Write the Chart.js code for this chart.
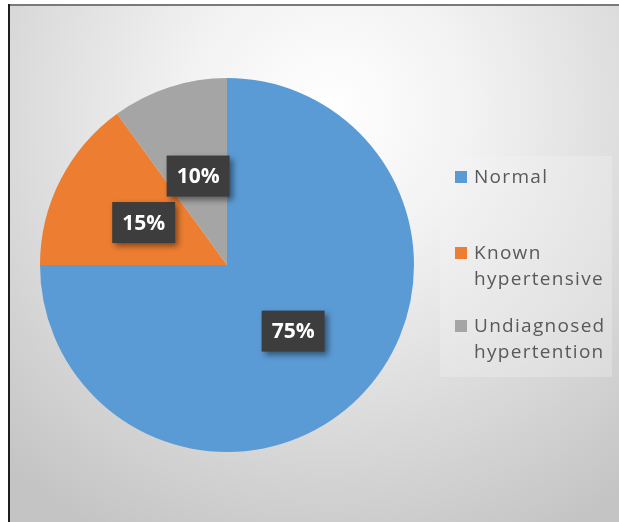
<!DOCTYPE html>
<html>
<head>
<meta charset="utf-8">
<script src="https://cdn.jsdelivr.net/npm/chart.js@4.4.1/dist/chart.umd.min.js"></script>
<style>
  html, body { margin: 0; padding: 0; background: #fff; }
  canvas { display: block; }
</style>
</head>
<body>
<canvas id="pieChart" width="619" height="522"></canvas>
<script>
// data
var categories = ["Normal", "Known hypertensive", "Undiagnosed hypertention"];
var shares = [75, 15, 10];
var colors = ["#5B9BD5", "#ED7D31", "#A5A5A5"];

// background + frame
var backdrop = {
  id: 'backdrop',
  beforeDraw: function (chart) {
    var ctx = chart.ctx;
    ctx.save();
    ctx.fillStyle = '#ffffff';
    ctx.fillRect(0, 0, chart.width, chart.height);
    var g = ctx.createRadialGradient(330, 110, 0, 330, 110, 480);
    g.addColorStop(0, '#ffffff');
    g.addColorStop(0.3, '#f2f2f2');
    g.addColorStop(1, '#c4c4c4');
    ctx.fillStyle = g;
    ctx.fillRect(9, 6, chart.width - 9, chart.height - 6);
    ctx.fillStyle = '#7a7a7a';
    ctx.fillRect(8, 4, chart.width - 8, 2);
    ctx.fillStyle = '#1e1e1e';
    ctx.fillRect(8, 4, 2, chart.height - 4);
    // legend panel
    ctx.fillStyle = 'rgba(246,246,246,0.3)';
    ctx.fillRect(440, 156, 172, 221);
    ctx.restore();
  }
};

// dark boxed percentage labels
var boxLabels = {
  id: 'boxLabels',
  afterDatasetsDraw: function (chart) {
    var ctx = chart.ctx;
    var meta = chart.getDatasetMeta(0);
    var total = shares.reduce(function (a, b) { return a + b; }, 0);
    ctx.save();
    ctx.font = 'bold 21px "Open Sans", "Liberation Sans", sans-serif';
    ctx.textAlign = 'center';
    ctx.textBaseline = 'middle';
    meta.data.forEach(function (arc, i) {
      var p = arc.getCenterPoint();
      var txt = Math.round(shares[i] / total * 100) + '%';
      var w = ctx.measureText(txt).width + 20;
      var h = 41;
      ctx.save();
      ctx.shadowColor = 'rgba(0,0,0,0.45)';
      ctx.shadowBlur = 6;
      ctx.shadowOffsetX = 3;
      ctx.shadowOffsetY = 3;
      ctx.fillStyle = '#3d3d3d';
      ctx.fillRect(p.x - w / 2, p.y - h / 2, w, h);
      ctx.restore();
      ctx.fillStyle = '#ffffff';
      ctx.fillText(txt, p.x, p.y + 1);
    });
    ctx.restore();
  }
};

// legend on the right, wrapped on spaces
var sideLegend = {
  id: 'sideLegend',
  afterDraw: function (chart) {
    var ctx = chart.ctx;
    var baselines = [183, 259, 332];
    ctx.save();
    ctx.font = '19px "Open Sans", "Liberation Sans", sans-serif';
    ctx.letterSpacing = '1.3px';
    ctx.textAlign = 'left';
    ctx.textBaseline = 'alphabetic';
    categories.forEach(function (name, i) {
      var y = baselines[i];
      ctx.fillStyle = colors[i];
      ctx.fillRect(455, y - 12, 12, 12);
      ctx.fillStyle = '#595959';
      name.split(' ').forEach(function (word, j) {
        ctx.fillText(word, 474, y + j * 26);
      });
    });
    ctx.restore();
  }
};

var ctxP = document.getElementById('pieChart').getContext('2d');
var myPieChart = new Chart(ctxP, {
  type: 'pie',
  data: {
    labels: categories,
    datasets: [{
      data: shares,
      backgroundColor: colors,
      borderWidth: 0
    }]
  },
  options: {
    responsive: false,
    devicePixelRatio: 1,
    animation: false,
    layout: {
      padding: { left: 40, top: 78, right: 205, bottom: 70 }
    },
    plugins: {
      legend: { display: false },
      tooltip: { enabled: false }
    }
  },
  plugins: [backdrop, boxLabels, sideLegend]
});
</script>
</body>
</html>
